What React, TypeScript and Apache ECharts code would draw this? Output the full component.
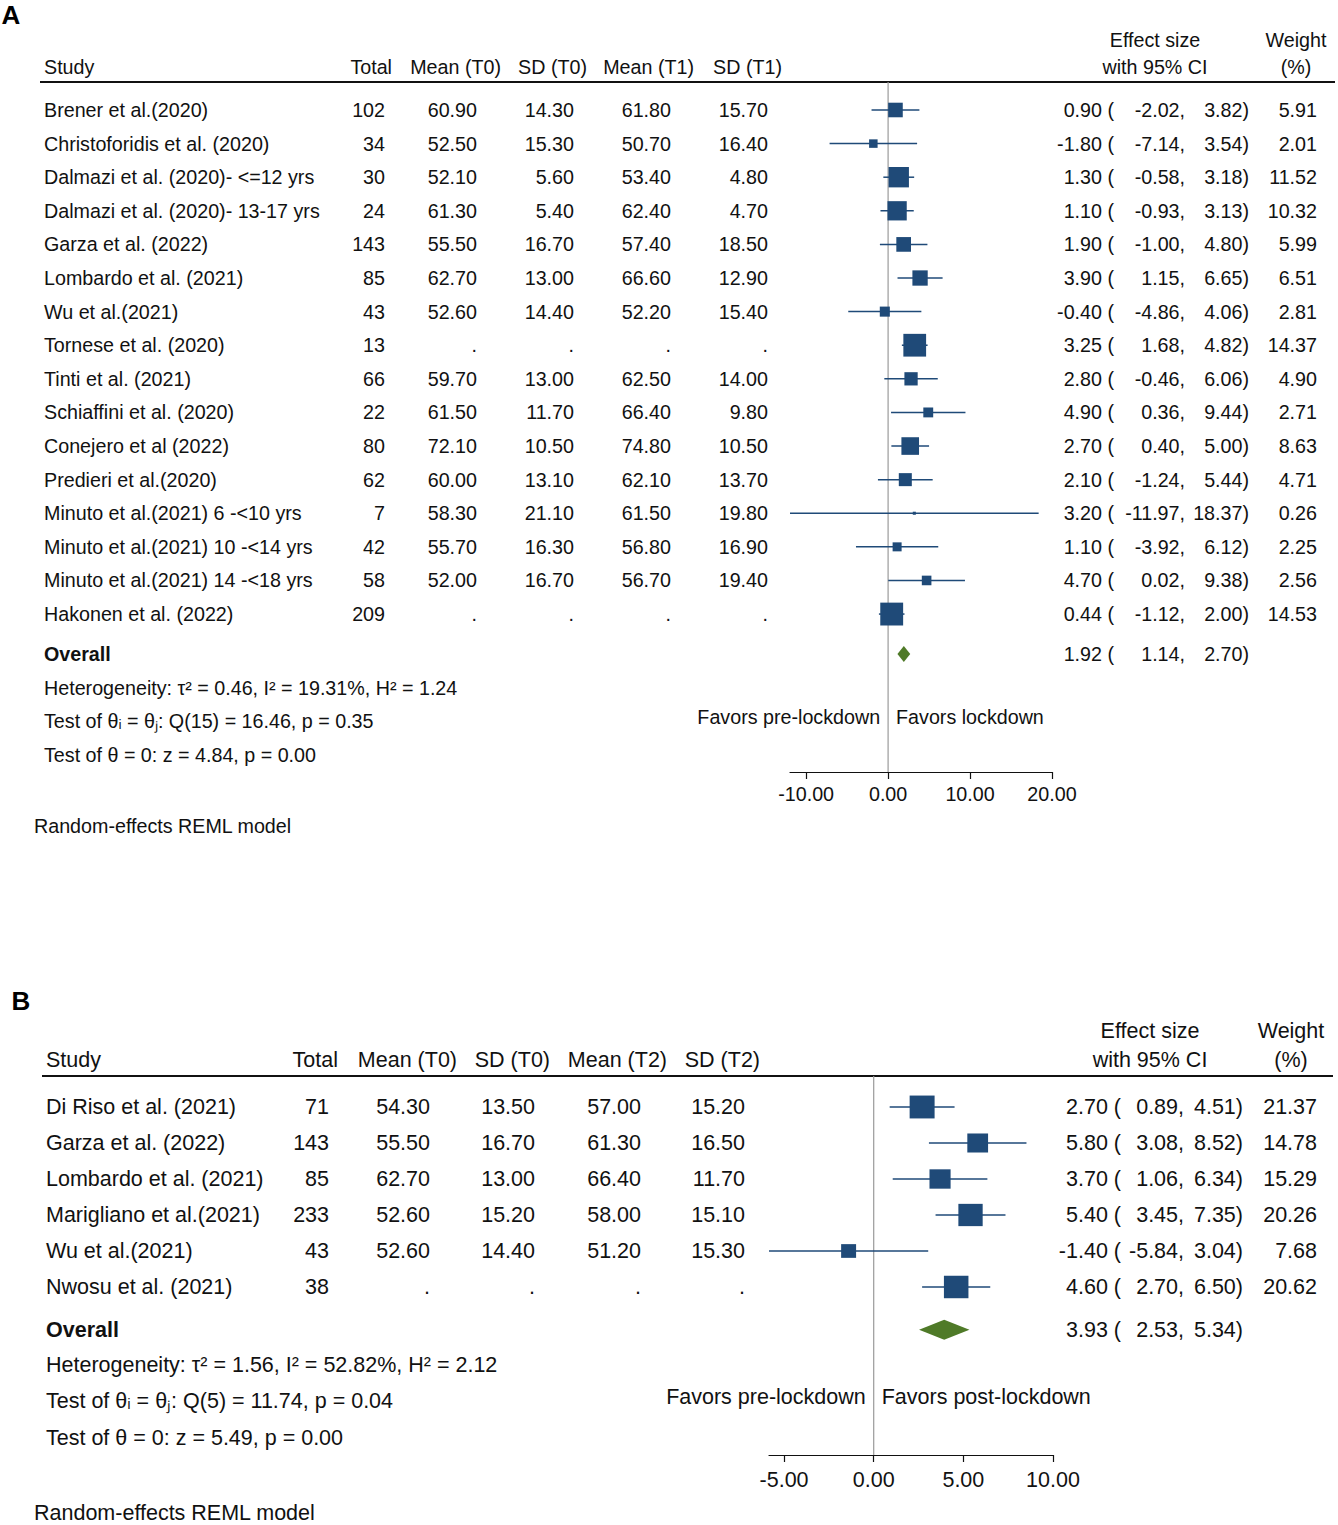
import React, { useEffect, useRef } from "react";
import * as echarts from "echarts";

const FONT = "'Liberation Sans', Arial, Helvetica, sans-serif";
const NAVY = "#1F4A78";
const GREEN = "#4F7A28";
const INK = "#111111";

// ---------- Panel A data ----------
const studiesA = [
  "Brener et al.(2020)",
  "Christoforidis et al. (2020)",
  "Dalmazi et al. (2020)- <=12 yrs",
  "Dalmazi et al. (2020)- 13-17 yrs",
  "Garza et al. (2022)",
  "Lombardo et al. (2021)",
  "Wu et al.(2021)",
  "Tornese et al. (2020)",
  "Tinti et al. (2021)",
  "Schiaffini et al. (2020)",
  "Conejero et al (2022)",
  "Predieri et al.(2020)",
  "Minuto et al.(2021) 6 -<10 yrs",
  "Minuto et al.(2021) 10 -<14 yrs",
  "Minuto et al.(2021) 14 -<18 yrs",
  "Hakonen et al. (2022)",
];
const totalA = [102, 34, 30, 24, 143, 85, 43, 13, 66, 22, 80, 62, 7, 42, 58, 209];
const meanT0A = [60.9, 52.5, 52.1, 61.3, 55.5, 62.7, 52.6, null, 59.7, 61.5, 72.1, 60.0, 58.3, 55.7, 52.0, null];
const sdT0A = [14.3, 15.3, 5.6, 5.4, 16.7, 13.0, 14.4, null, 13.0, 11.7, 10.5, 13.1, 21.1, 16.3, 16.7, null];
const meanT1A = [61.8, 50.7, 53.4, 62.4, 57.4, 66.6, 52.2, null, 62.5, 66.4, 74.8, 62.1, 61.5, 56.8, 56.7, null];
const sdT1A = [15.7, 16.4, 4.8, 4.7, 18.5, 12.9, 15.4, null, 14.0, 9.8, 10.5, 13.7, 19.8, 16.9, 19.4, null];
const esA = [0.9, -1.8, 1.3, 1.1, 1.9, 3.9, -0.4, 3.25, 2.8, 4.9, 2.7, 2.1, 3.2, 1.1, 4.7, 0.44];
const loA = [-2.02, -7.14, -0.58, -0.93, -1.0, 1.15, -4.86, 1.68, -0.46, 0.36, 0.4, -1.24, -11.97, -3.92, 0.02, -1.12];
const hiA = [3.82, 3.54, 3.18, 3.13, 4.8, 6.65, 4.06, 4.82, 6.06, 9.44, 5.0, 5.44, 18.37, 6.12, 9.38, 2.0];
const weightA = [5.91, 2.01, 11.52, 10.32, 5.99, 6.51, 2.81, 14.37, 4.9, 2.71, 8.63, 4.71, 0.26, 2.25, 2.56, 14.53];
const overallA = [1.92, 1.14, 2.7];
const statsA = [
  "Heterogeneity: τ² = 0.46, I² = 19.31%, H² = 1.24",
  "Test of θᵢ = θⱼ: Q(15) = 16.46, p = 0.35",
  "Test of θ = 0: z = 4.84, p = 0.00",
];
const headersA = ["Study", "Total", "Mean (T0)", "SD (T0)", "Mean (T1)", "SD (T1)"];
const favorsA = ["Favors pre-lockdown", "Favors lockdown"];
const ticksA = [-10, 0, 10, 20];

// ---------- Panel B data ----------
const studiesB = [
  "Di Riso et al. (2021)",
  "Garza et al. (2022)",
  "Lombardo et al. (2021)",
  "Marigliano et al.(2021)",
  "Wu et al.(2021)",
  "Nwosu et al. (2021)",
];
const totalB = [71, 143, 85, 233, 43, 38];
const meanT0B = [54.3, 55.5, 62.7, 52.6, 52.6, null];
const sdT0B = [13.5, 16.7, 13.0, 15.2, 14.4, null];
const meanT2B = [57.0, 61.3, 66.4, 58.0, 51.2, null];
const sdT2B = [15.2, 16.5, 11.7, 15.1, 15.3, null];
const esB = [2.7, 5.8, 3.7, 5.4, -1.4, 4.6];
const loB = [0.89, 3.08, 1.06, 3.45, -5.84, 2.7];
const hiB = [4.51, 8.52, 6.34, 7.35, 3.04, 6.5];
const weightB = [21.37, 14.78, 15.29, 20.26, 7.68, 20.62];
const overallB = [3.93, 2.53, 5.34];
const statsB = [
  "Heterogeneity: τ² = 1.56, I² = 52.82%, H² = 2.12",
  "Test of θᵢ = θⱼ: Q(5) = 11.74, p = 0.04",
  "Test of θ = 0: z = 5.49, p = 0.00",
];
const headersB = ["Study", "Total", "Mean (T0)", "SD (T0)", "Mean (T2)", "SD (T2)"];
const favorsB = ["Favors pre-lockdown", "Favors post-lockdown"];
const ticksB = [-5, 0, 5, 10];

const footnote = "Random-effects REML model";
const esHeader = ["Effect size", "with 95% CI"];
const wHeader = ["Weight", "(%)"];

const fmt = (v: number | null) => (v == null ? "." : v.toFixed(2));

const panels = [
  {
    studies: studiesA, total: totalA, vals: [meanT0A, sdT0A, meanT1A, sdT1A],
    es: esA, lo: loA, hi: hiA, w: weightA, overall: overallA, stats: statsA,
    headers: headersA, favors: favorsA, ticks: ticksA,
    L: {
      fs: 19.7, gridLeft: 790, gridWidth: 262, gridTop: 82, gridHeight: 690,
      yMin: -0.833, yMax: 19.7, xMin: -11.97, xMax: 20, labelMargin: 12,
      sqW: 6, sqH: 6, diaH: 16,
      study: 44, total: 385, vals: [477, 574, 671, 768], es: 1114, lo: 1185, hi: 1249, wt: 1317,
      hdrX: [44, 392, 501, 587, 694, 782], hdrA: ["left", "right", "right", "right", "right", "right"],
      esHX: 1155, wHX: 1296,
      rowOverall: 16.19, rowStats: [17.2, 18.18, 19.2], rowFavor: 18.07, rowH1: -2.08, rowH2: -1.28,
      rowFoot: 21.31, footX: 34, lineX1: 40, lineX2: 1335,
      letter: "A", letterX: 11, letterY: 15,
    },
  },
  {
    studies: studiesB, total: totalB, vals: [meanT0B, sdT0B, meanT2B, sdT2B],
    es: esB, lo: loB, hi: hiB, w: weightB, overall: overallB, stats: statsB,
    headers: headersB, favors: favorsB, ticks: ticksB,
    L: {
      fs: 21.5, gridLeft: 769, gridWidth: 284, gridTop: 1076, gridHeight: 379,
      yMin: -0.861, yMax: 9.667, xMin: -5.84, xMax: 10, labelMargin: 14,
      sqW: 5.4, sqH: 4.95, diaH: 20,
      study: 46, total: 329, vals: [430, 535, 641, 745], es: 1121, lo: 1184, hi: 1243, wt: 1317,
      hdrX: [46, 338, 457, 550, 667, 760], hdrA: ["left", "right", "right", "right", "right", "right"],
      esHX: 1150, wHX: 1291,
      rowOverall: 6.19, rowStats: [7.17, 8.17, 9.19], rowFavor: 8.06, rowH1: -2.11, rowH2: -1.31,
      rowFoot: 11.28, footX: 34, lineX1: 42, lineX2: 1333,
      letter: "B", letterX: 21, letterY: 1001,
    },
  },
];

type Cell = { t: string; x: number; a: string; r: number; bold?: boolean; zero?: boolean };

function buildOption() {
  const grid: any[] = [];
  const xAxis: any[] = [];
  const yAxis: any[] = [];
  const series: any[] = [];
  const graphic: any[] = [];

  panels.forEach((p, gi) => {
    const L = p.L;
    grid.push({ left: L.gridLeft, top: L.gridTop, width: L.gridWidth, height: L.gridHeight, containLabel: false });
    xAxis.push({
      gridIndex: gi, type: "value", min: L.xMin, max: L.xMax, position: "bottom",
      axisLine: { show: true, onZero: false, lineStyle: { color: INK, width: 1.2 } },
      axisTick: { show: true, inside: false, length: 7, customValues: p.ticks, lineStyle: { color: INK, width: 1.2 } },
      axisLabel: {
        show: true, customValues: p.ticks, formatter: (v: number) => Number(v).toFixed(2),
        fontSize: L.fs, fontFamily: FONT, color: INK, margin: L.labelMargin,
      },
      splitLine: { show: false },
    });
    yAxis.push({ gridIndex: gi, type: "value", inverse: true, min: L.yMin, max: L.yMax, show: false });

    // zero reference line
    series.push({
      type: "custom", xAxisIndex: gi, yAxisIndex: gi, clip: false, silent: true, z: 1,
      data: [[0, L.yMin, L.yMax]],
      renderItem: (params: any, api: any) => {
        const a = api.coord([api.value(0), api.value(1)]);
        const b = api.coord([api.value(0), api.value(2)]);
        return { type: "line", shape: { x1: a[0], y1: a[1], x2: b[0], y2: b[1] }, style: { stroke: "#9a9a9a", lineWidth: 1.2 } };
      },
    });

    // study markers: CI line + weighted square
    series.push({
      type: "custom", xAxisIndex: gi, yAxisIndex: gi, clip: false, silent: true, z: 3,
      data: p.es.map((e, i) => [e, p.lo[i], p.hi[i], p.w[i], i]),
      renderItem: (params: any, api: any) => {
        const row = api.value(4);
        const c = api.coord([api.value(0), row]);
        const l = api.coord([api.value(1), row]);
        const h = api.coord([api.value(2), row]);
        const sw = L.sqW * Math.sqrt(api.value(3));
        const sh = L.sqH * Math.sqrt(api.value(3));
        return {
          type: "group",
          children: [
            { type: "line", shape: { x1: l[0], y1: l[1], x2: h[0], y2: h[1] }, style: { stroke: NAVY, lineWidth: 1.5 } },
            { type: "rect", shape: { x: c[0] - sw / 2, y: c[1] - sh / 2, width: sw, height: sh }, style: { fill: NAVY } },
          ],
        };
      },
    });

    // overall diamond
    series.push({
      type: "custom", xAxisIndex: gi, yAxisIndex: gi, clip: false, silent: true, z: 3,
      data: [[p.overall[0], p.overall[1], p.overall[2], L.rowOverall]],
      renderItem: (params: any, api: any) => {
        const row = api.value(3);
        const c = api.coord([api.value(0), row]);
        const l = api.coord([api.value(1), row]);
        const h = api.coord([api.value(2), row]);
        const hh = L.diaH / 2;
        return {
          type: "polygon",
          shape: { points: [[l[0], l[1]], [c[0], c[1] - hh], [h[0], h[1]], [c[0], c[1] + hh]] },
          style: { fill: GREEN },
        };
      },
    });

    // table text
    const cells: Cell[] = [];
    p.headers.forEach((h, k) => cells.push({ t: h, x: L.hdrX[k], a: L.hdrA[k], r: L.rowH2 }));
    cells.push({ t: esHeader[0], x: L.esHX, a: "center", r: L.rowH1 });
    cells.push({ t: esHeader[1], x: L.esHX, a: "center", r: L.rowH2 });
    cells.push({ t: wHeader[0], x: L.wHX, a: "center", r: L.rowH1 });
    cells.push({ t: wHeader[1], x: L.wHX, a: "center", r: L.rowH2 });
    p.studies.forEach((s, i) => {
      cells.push({ t: s, x: L.study, a: "left", r: i });
      cells.push({ t: String(p.total[i]), x: L.total, a: "right", r: i });
      p.vals.forEach((arr, k) => cells.push({ t: fmt(arr[i]), x: L.vals[k], a: "right", r: i }));
      cells.push({ t: `${p.es[i].toFixed(2)} (`, x: L.es, a: "right", r: i });
      cells.push({ t: `${p.lo[i].toFixed(2)},`, x: L.lo, a: "right", r: i });
      cells.push({ t: `${p.hi[i].toFixed(2)})`, x: L.hi, a: "right", r: i });
      cells.push({ t: p.w[i].toFixed(2), x: L.wt, a: "right", r: i });
    });
    cells.push({ t: "Overall", x: L.study, a: "left", r: L.rowOverall, bold: true });
    cells.push({ t: `${p.overall[0].toFixed(2)} (`, x: L.es, a: "right", r: L.rowOverall });
    cells.push({ t: `${p.overall[1].toFixed(2)},`, x: L.lo, a: "right", r: L.rowOverall });
    cells.push({ t: `${p.overall[2].toFixed(2)})`, x: L.hi, a: "right", r: L.rowOverall });
    p.stats.forEach((s, k) => cells.push({ t: s, x: L.study, a: "left", r: L.rowStats[k] }));
    cells.push({ t: p.favors[0], x: -8, a: "right", r: L.rowFavor, zero: true });
    cells.push({ t: p.favors[1], x: 8, a: "left", r: L.rowFavor, zero: true });
    cells.push({ t: footnote, x: L.footX, a: "left", r: L.rowFoot });

    series.push({
      type: "custom", xAxisIndex: gi, yAxisIndex: gi, clip: false, silent: true, z: 4,
      data: cells.map((c) => [0, c.r]),
      renderItem: (params: any, api: any) => {
        const c = cells[params.dataIndex];
        const pt = api.coord([0, api.value(1)]);
        const x = c.zero ? pt[0] + c.x : c.x;
        return {
          type: "text", x, y: pt[1],
          style: {
            text: c.t, fontSize: L.fs, fontFamily: FONT, fontWeight: c.bold ? "bold" : "normal",
            fill: INK, align: c.a, verticalAlign: "middle",
          },
        };
      },
    });

    // header rule and panel letter
    graphic.push({
      type: "line", shape: { x1: L.lineX1, y1: L.gridTop, x2: L.lineX2, y2: L.gridTop },
      style: { stroke: INK, lineWidth: 2 }, silent: true,
    });
    graphic.push({
      type: "text", x: L.letterX, y: L.letterY,
      style: { text: L.letter, fontSize: 26, fontWeight: "bold", fontFamily: FONT, fill: "#000", align: "center", verticalAlign: "middle" },
      silent: true,
    });
  });

  return {
    animation: false,
    backgroundColor: "#ffffff",
    grid, xAxis, yAxis, series, graphic,
  };
}

export default function App() {
  const ref = useRef<HTMLDivElement>(null);
  useEffect(() => {
    document.body.style.margin = "0";
    const chart = echarts.init(ref.current as HTMLDivElement, null, { renderer: "svg" });
    chart.setOption(buildOption() as any);
    return () => chart.dispose();
  }, []);
  return <div ref={ref} style={{ width: 1338, height: 1525, background: "#fff" }} />;
}
